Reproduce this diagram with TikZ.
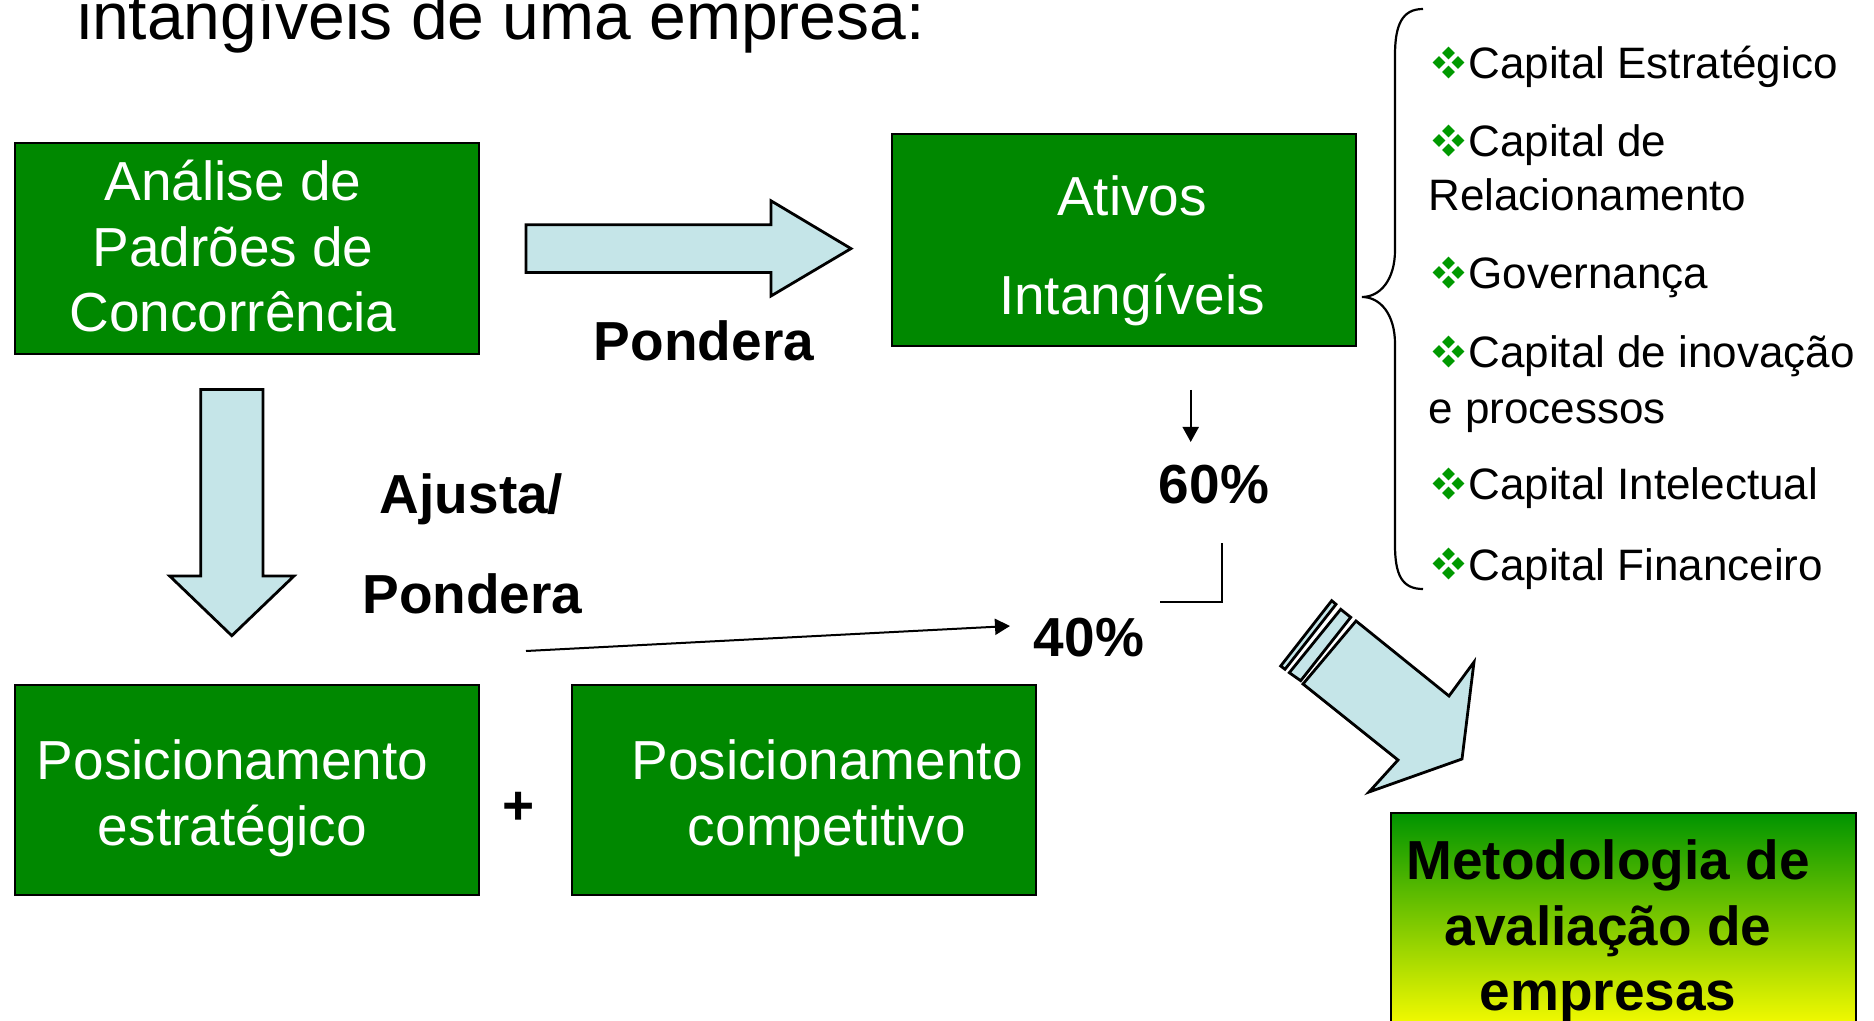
\documentclass[tikz,border=0pt]{standalone}
\usepackage{fontspec}
\setmainfont{Liberation Sans}
\usetikzlibrary{arrows.meta}
\definecolor{boxgreen}{RGB}{0,136,0}
\definecolor{arrowfill}{RGB}{197,229,232}
\definecolor{bulgreen}{RGB}{0,153,0}
\definecolor{gradtop}{RGB}{0,148,0}
\definecolor{gradbot}{RGB}{255,255,0}
\newcommand\myfs[1]{\fontsize{#1}{#1}\selectfont}
\begin{document}
\begin{tikzpicture}[x=0.5pt,y=-0.5pt,
  greenbox/.style={draw=black, line width=1.15pt, fill=boxgreen, minimum width=232pt, minimum height=105.5pt, inner sep=0pt},
  boxtxt/.style={anchor=base, inner sep=0pt, text=white, font=\myfs{27.5pt}},
  lbl/.style={anchor=base, inner sep=0pt, font=\bfseries\myfs{27.5pt}},
  listtxt/.style={anchor=base west, inner sep=0pt, font=\myfs{22pt}},
  blockarrow/.style={draw=black, line width=1.4pt, fill=arrowfill, line join=miter},
  thinarrow/.style={line width=1pt, -{Triangle[length=7.5pt,width=8pt]}},
  plainline/.style={line width=1pt},
  bul/.pic={\foreach \dx/\dy in {0/-9.5,-9.5/0,9.5/0,0/9.5}
      \fill[bulgreen] (\dx,\dy) +(0,-6.3) -- +(6.3,0) -- +(0,6.3) -- +(-6.3,0) -- cycle;}
]
\useasboundingbox (0,0) rectangle (1874,1021);
\clip (0,0) rectangle (1874,1021);

% title
\node[anchor=base west, inner sep=0pt, font=\myfs{33pt}] (title) at (77,39.5) {intangíveis de uma empresa:};

% boxes
\node[greenbox] (boxA) at (247,248.4) {};
\node[greenbox, minimum height=106pt] (boxB) at (1124,240) {};
\node[greenbox, minimum height=105pt] (boxC) at (247,790) {};
\node[greenbox, minimum height=105pt] (boxD) at (804,790) {};
\node[draw=black, line width=1.15pt, top color=gradtop, bottom color=gradbot, minimum width=232.5pt, minimum height=111pt, inner sep=0pt] (boxE) at (1623.5,924) {};

% box texts
\node[boxtxt] (a1) at (233,200.7) {Análise de};
\node[boxtxt] (a2) at (233,266.7) {Padrões de};
\node[boxtxt] (a3) at (233,331.7) {Concorrência};
\node[boxtxt] (b1) at (1132,215.7) {Ativos};
\node[boxtxt] (b2) at (1132,315) {Intangíveis};
\node[boxtxt] (c1) at (232.5,779) {Posicionamento};
\node[boxtxt] (c2) at (232.5,845) {estratégico};
\node[boxtxt] (d1) at (827,779) {Posicionamento};
\node[boxtxt] (d2) at (827,845) {competitivo};
\node[lbl] (e1) at (1608,879) {Metodologia de};
\node[lbl] (e2) at (1608,945) {avaliação de};
\node[lbl] (e3) at (1608,1010) {empresas};

% labels
\node[lbl] (pond1) at (704,361) {Pondera};
\node[lbl] (ajusta) at (471.5,514) {Ajusta/};
\node[lbl] (pond2) at (472.5,613) {Pondera};
\node[lbl] (p60) at (1214,503) {60\%};
\node[lbl] (p40) at (1089,656) {40\%};
\node[inner sep=0pt, font=\bfseries\myfs{27.5pt}] (plus) at (519,808) {+};

% block arrows
\draw[blockarrow] (526,224.7) -- (771,224.7) -- (771,200.8) -- (851,248.6) -- (771,296) -- (771,272.5) -- (526,272.5) -- cycle;
\draw[blockarrow] (200.8,389.6) -- (263,389.6) -- (263,576) -- (294,576) -- (231.8,635.7) -- (169.7,576) -- (200.8,576) -- cycle;

% striped diagonal arrow
\draw[blockarrow] (1331.7,600.7) -- (1336,604.3) -- (1285,669.3) -- (1280.7,666) -- cycle;
\draw[blockarrow] (1340.7,609.3) -- (1350.7,617.3) -- (1300.7,680.7) -- (1289.3,672.7) -- cycle;
\draw[blockarrow] (1356,621) -- (1449,696) -- (1474,662) -- (1462,759) -- (1369,792) -- (1398,760) -- (1303,684) -- cycle;

% thin connectors
\coordinate (t1s) at (526,651);
\coordinate (t1e) at (1010,626);
\draw[thinarrow] (t1s) -- (t1e);
\coordinate (t2s) at (1190.7,390);
\coordinate (t2e) at (1190.7,442);
\draw[thinarrow] (t2s) -- (t2e);
\coordinate (t3s) at (1221.7,543);
\coordinate (t3e) at (1160,601.7);
\draw[plainline] (t3s) |- (t3e);

% brace
\draw[line width=1.1pt] (1423,9) .. controls (1402,9) and (1395,25) .. (1395,55) -- (1395,250)
  .. controls (1395,280) and (1380,297) .. (1362,297)
  .. controls (1380,297) and (1395,314) .. (1395,344) -- (1395,545)
  .. controls (1395,575) and (1402,589) .. (1423,589);

% list
\pic at (1448.5,62.5) {bul};
\node[listtxt] (l1) at (1468,79) {Capital Estratégico};
\pic at (1448.5,140.5) {bul};
\node[listtxt] (l2) at (1468,157) {Capital de};
\node[listtxt] (l2b) at (1428,211) {Relacionamento};
\pic at (1448.5,272.5) {bul};
\node[listtxt] (l3) at (1468,289) {Governança};
\pic at (1448.5,351.5) {bul};
\node[listtxt] (l4) at (1468,368) {Capital de inovação};
\node[listtxt] (l4b) at (1428,423) {e processos};
\pic at (1448.5,483.5) {bul};
\node[listtxt] (l5) at (1468,500) {Capital Intelectual};
\pic at (1448.5,563.5) {bul};
\node[listtxt] (l6) at (1468,580) {Capital Financeiro};
\end{tikzpicture}
\end{document}
